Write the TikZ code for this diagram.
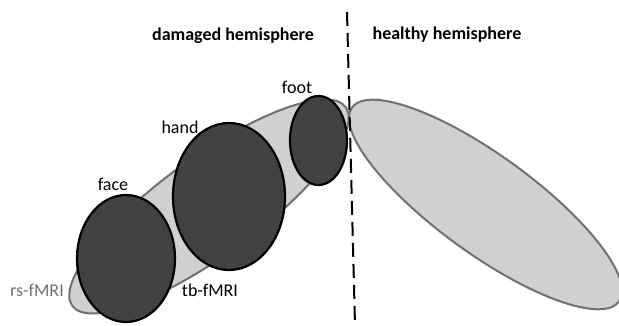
\documentclass[tikz,border=0pt]{standalone}
\usepackage{fontspec}
\setmainfont{Carlito}
\usetikzlibrary{shapes.geometric}
\definecolor{lobefill}{RGB}{208,208,208}
\definecolor{lobeline}{RGB}{112,112,112}
\definecolor{areafill}{RGB}{66,66,66}
\begin{document}
\begin{tikzpicture}[x=1pt,y=1pt,font=\fontsize{18}{21}\selectfont,
  lobe/.style={ellipse,draw=lobeline,fill=lobefill,line width=2pt,
    inner sep=0pt,minimum height=98pt},
  area/.style={ellipse,draw=black,fill=areafill,line width=2.2pt,inner sep=0pt}]
  \useasboundingbox (0,0) rectangle (619,325);
  \node[lobe,minimum width=338pt,rotate=36] (rs) at (209,118.5) {};
  \node[lobe,minimum width=330pt,rotate=-36] (healthy) at (485.5,120.5) {};
  \node[area,minimum width=98pt,minimum height=127pt] (face) at (126,66.5) {};
  \node[area,minimum width=112pt,minimum height=147pt] (hand) at (229,128.5) {};
  \node[area,minimum width=57pt,minimum height=89pt] (foot) at (318.5,184.5) {};
  \node (facelbl) at (113,141) {face};
  \node (handlbl) at (180,198) {hand};
  \node (footlbl) at (297,238) {foot};
  \node[text=lobeline] (rslbl) at (37,35) {rs-fMRI};
  \node (tblbl) at (210,35) {tb-fMRI};
  \node[font=\fontsize{18}{21}\selectfont\bfseries] (damaged) at (233,289) {damaged hemisphere};
  \node[font=\fontsize{18}{21}\selectfont\bfseries] (healthylbl) at (447,290) {healthy hemisphere};
  % midline between the hemispheres
  \coordinate (midtop) at (347,313);
  \coordinate (midbot) at (355,0);
  \draw[line width=2pt,dash pattern=on 14pt off 7pt] (midtop) -- (midbot);
\end{tikzpicture}
\end{document}
